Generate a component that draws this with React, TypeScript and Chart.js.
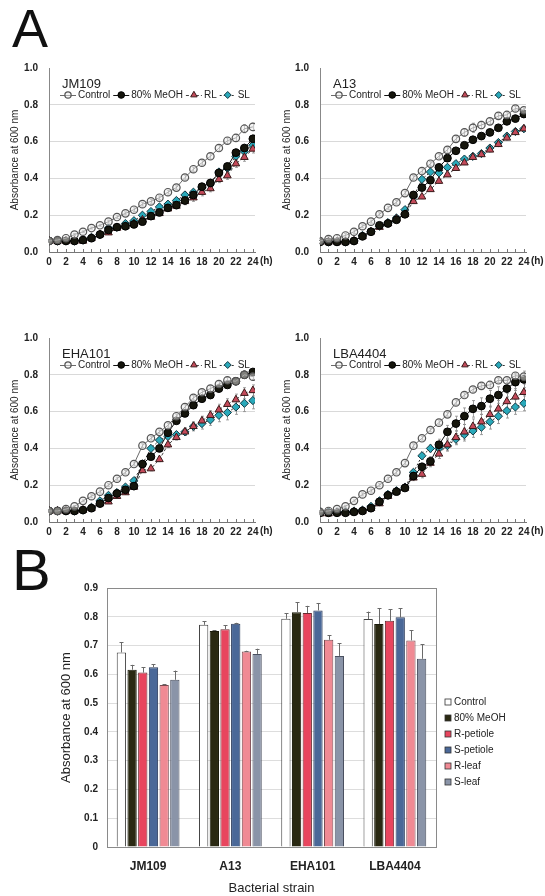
import React, { useEffect, useRef } from 'react';
import { Chart, registerables } from 'chart.js';

Chart.register(...registerables);

const FONT = '"Liberation Sans", Arial, Helvetica, sans-serif';

// ---------- Panel A data (absorbance at 600 nm vs hours) ----------
const hours = [0, 1, 2, 3, 4, 5, 6, 7, 8, 9, 10, 11, 12, 13, 14, 15, 16, 17, 18, 19, 20, 21, 22, 23, 24];
const hourTickLabels = ['0', '', '2', '', '4', '', '6', '', '8', '', '10', '', '12', '', '14', '', '16', '', '18', '', '20', '', '22', '', '24'];
const lineSeriesNames = ['Control', '80% MeOH', 'RL', 'SL'];

const jm109Control = [0.06, 0.065, 0.075, 0.095, 0.11, 0.13, 0.145, 0.165, 0.19, 0.21, 0.23, 0.26, 0.275, 0.295, 0.325, 0.35, 0.405, 0.45, 0.485, 0.52, 0.565, 0.605, 0.62, 0.67, 0.68];
const jm109Methanol = [0.06, 0.06, 0.06, 0.06, 0.065, 0.075, 0.095, 0.12, 0.135, 0.14, 0.15, 0.165, 0.195, 0.215, 0.24, 0.255, 0.28, 0.31, 0.355, 0.375, 0.43, 0.465, 0.54, 0.565, 0.615];
const jm109RL = [0.06, 0.06, 0.06, 0.06, 0.06, 0.075, 0.095, 0.105, 0.13, 0.14, 0.155, 0.175, 0.19, 0.21, 0.235, 0.25, 0.275, 0.295, 0.325, 0.345, 0.395, 0.415, 0.48, 0.515, 0.56];
const jm109SL = [0.06, 0.06, 0.06, 0.06, 0.065, 0.08, 0.095, 0.13, 0.135, 0.155, 0.17, 0.2, 0.22, 0.245, 0.26, 0.28, 0.31, 0.325, 0.35, 0.375, 0.435, 0.455, 0.52, 0.545, 0.58];
const jm109ControlErr = [0.005, 0.005, 0.005, 0.005, 0.005, 0.005, 0.005, 0.008, 0.008, 0.008, 0.01, 0.01, 0.01, 0.01, 0.01, 0.01, 0.012, 0.012, 0.012, 0.015, 0.015, 0.015, 0.018, 0.022, 0.02];
const jm109MethanolErr = [0.005, 0.005, 0.005, 0.005, 0.005, 0.005, 0.005, 0.008, 0.008, 0.008, 0.008, 0.01, 0.01, 0.01, 0.01, 0.012, 0.012, 0.015, 0.015, 0.015, 0.018, 0.018, 0.02, 0.02, 0.022];
const jm109RLErr = [0.005, 0.005, 0.005, 0.005, 0.005, 0.005, 0.005, 0.008, 0.008, 0.008, 0.008, 0.01, 0.01, 0.01, 0.012, 0.015, 0.018, 0.02, 0.02, 0.018, 0.018, 0.02, 0.02, 0.022, 0.022];
const jm109SLErr = [0.005, 0.005, 0.005, 0.005, 0.005, 0.005, 0.005, 0.008, 0.008, 0.008, 0.008, 0.01, 0.01, 0.01, 0.01, 0.012, 0.015, 0.015, 0.015, 0.015, 0.015, 0.018, 0.018, 0.02, 0.02];

const a13Control = [0.06, 0.07, 0.075, 0.09, 0.11, 0.14, 0.165, 0.205, 0.24, 0.27, 0.32, 0.405, 0.44, 0.48, 0.52, 0.555, 0.615, 0.65, 0.675, 0.69, 0.71, 0.74, 0.745, 0.78, 0.77];
const a13Methanol = [0.055, 0.055, 0.055, 0.055, 0.06, 0.085, 0.11, 0.145, 0.155, 0.175, 0.205, 0.31, 0.35, 0.39, 0.46, 0.51, 0.55, 0.58, 0.61, 0.63, 0.65, 0.675, 0.71, 0.725, 0.75];
const a13RL = [0.055, 0.055, 0.055, 0.055, 0.06, 0.085, 0.11, 0.135, 0.155, 0.18, 0.205, 0.275, 0.3, 0.34, 0.385, 0.42, 0.455, 0.485, 0.515, 0.53, 0.555, 0.585, 0.62, 0.65, 0.67];
const a13SL = [0.055, 0.055, 0.055, 0.055, 0.06, 0.09, 0.11, 0.14, 0.16, 0.185, 0.23, 0.3, 0.395, 0.435, 0.43, 0.46, 0.48, 0.505, 0.52, 0.535, 0.565, 0.595, 0.63, 0.655, 0.67];
const a13ControlErr = [0.015, 0.015, 0.015, 0.01, 0.01, 0.008, 0.008, 0.008, 0.008, 0.01, 0.01, 0.01, 0.012, 0.012, 0.012, 0.015, 0.015, 0.02, 0.025, 0.02, 0.015, 0.015, 0.012, 0.012, 0.01];
const a13MethanolErr = [0.008, 0.008, 0.008, 0.008, 0.008, 0.008, 0.008, 0.008, 0.008, 0.008, 0.01, 0.01, 0.01, 0.01, 0.01, 0.01, 0.01, 0.01, 0.01, 0.01, 0.01, 0.01, 0.01, 0.01, 0.01];
const a13RLErr = [0.008, 0.008, 0.008, 0.008, 0.008, 0.008, 0.008, 0.008, 0.008, 0.008, 0.01, 0.01, 0.01, 0.01, 0.01, 0.01, 0.01, 0.01, 0.01, 0.01, 0.01, 0.01, 0.01, 0.01, 0.01];
const a13SLErr = [0.008, 0.008, 0.008, 0.008, 0.008, 0.008, 0.008, 0.008, 0.008, 0.008, 0.01, 0.01, 0.01, 0.01, 0.01, 0.01, 0.01, 0.01, 0.01, 0.01, 0.01, 0.01, 0.012, 0.012, 0.012];

const eha101Control = [0.06, 0.06, 0.07, 0.085, 0.115, 0.14, 0.165, 0.2, 0.235, 0.27, 0.315, 0.415, 0.455, 0.49, 0.525, 0.575, 0.625, 0.675, 0.705, 0.725, 0.75, 0.77, 0.765, 0.8, 0.79];
const eha101Methanol = [0.06, 0.06, 0.06, 0.06, 0.065, 0.075, 0.1, 0.13, 0.155, 0.175, 0.195, 0.315, 0.355, 0.4, 0.485, 0.55, 0.59, 0.635, 0.67, 0.69, 0.725, 0.745, 0.765, 0.8, 0.815];
const eha101RL = [0.06, 0.06, 0.06, 0.06, 0.065, 0.075, 0.1, 0.11, 0.14, 0.16, 0.19, 0.28, 0.29, 0.34, 0.42, 0.46, 0.49, 0.52, 0.55, 0.58, 0.61, 0.64, 0.665, 0.7, 0.715];
const eha101SL = [0.06, 0.06, 0.06, 0.06, 0.065, 0.08, 0.115, 0.145, 0.16, 0.19, 0.225, 0.315, 0.4, 0.445, 0.465, 0.475, 0.49, 0.52, 0.535, 0.555, 0.58, 0.595, 0.625, 0.645, 0.66];
const eha101ControlErr = [0.005, 0.005, 0.005, 0.005, 0.005, 0.008, 0.008, 0.008, 0.008, 0.01, 0.01, 0.01, 0.01, 0.01, 0.01, 0.012, 0.012, 0.012, 0.012, 0.015, 0.015, 0.015, 0.015, 0.015, 0.015];
const eha101MethanolErr = [0.005, 0.005, 0.005, 0.005, 0.005, 0.008, 0.008, 0.008, 0.008, 0.01, 0.01, 0.01, 0.012, 0.012, 0.015, 0.015, 0.015, 0.015, 0.015, 0.015, 0.015, 0.015, 0.018, 0.02, 0.02];
const eha101RLErr = [0.005, 0.005, 0.005, 0.005, 0.005, 0.008, 0.008, 0.008, 0.008, 0.01, 0.01, 0.01, 0.012, 0.012, 0.015, 0.015, 0.02, 0.02, 0.025, 0.025, 0.03, 0.03, 0.03, 0.03, 0.03];
const eha101SLErr = [0.005, 0.005, 0.005, 0.005, 0.005, 0.008, 0.008, 0.008, 0.008, 0.01, 0.01, 0.01, 0.012, 0.012, 0.015, 0.015, 0.02, 0.025, 0.03, 0.03, 0.035, 0.04, 0.04, 0.045, 0.045];

const lba4404Control = [0.055, 0.06, 0.07, 0.085, 0.115, 0.15, 0.17, 0.2, 0.235, 0.27, 0.32, 0.415, 0.455, 0.5, 0.54, 0.585, 0.65, 0.69, 0.72, 0.74, 0.745, 0.77, 0.77, 0.795, 0.79];
const lba4404Methanol = [0.05, 0.05, 0.05, 0.05, 0.055, 0.06, 0.075, 0.11, 0.145, 0.165, 0.185, 0.25, 0.3, 0.33, 0.42, 0.49, 0.535, 0.575, 0.615, 0.63, 0.67, 0.69, 0.725, 0.76, 0.775];
const lba4404RL = [0.045, 0.045, 0.05, 0.05, 0.055, 0.06, 0.075, 0.1, 0.14, 0.165, 0.185, 0.24, 0.26, 0.32, 0.37, 0.42, 0.46, 0.49, 0.52, 0.545, 0.585, 0.615, 0.655, 0.68, 0.705];
const lba4404SL = [0.055, 0.055, 0.055, 0.055, 0.06, 0.065, 0.085, 0.115, 0.15, 0.17, 0.19, 0.27, 0.36, 0.4, 0.4, 0.415, 0.45, 0.475, 0.495, 0.515, 0.545, 0.575, 0.605, 0.625, 0.645];
const lba4404ControlErr = [0.005, 0.005, 0.005, 0.005, 0.005, 0.008, 0.008, 0.008, 0.008, 0.01, 0.01, 0.01, 0.01, 0.01, 0.01, 0.01, 0.012, 0.012, 0.012, 0.012, 0.012, 0.012, 0.012, 0.015, 0.015];
const lba4404MethanolErr = [0.005, 0.005, 0.005, 0.005, 0.005, 0.008, 0.008, 0.008, 0.008, 0.01, 0.01, 0.015, 0.02, 0.025, 0.03, 0.035, 0.04, 0.045, 0.045, 0.045, 0.045, 0.045, 0.045, 0.045, 0.045];
const lba4404RLErr = [0.005, 0.005, 0.005, 0.005, 0.005, 0.008, 0.008, 0.008, 0.008, 0.01, 0.01, 0.015, 0.02, 0.02, 0.025, 0.03, 0.035, 0.04, 0.04, 0.04, 0.045, 0.045, 0.045, 0.045, 0.045];
const lba4404SLErr = [0.005, 0.005, 0.005, 0.005, 0.005, 0.008, 0.008, 0.008, 0.008, 0.01, 0.01, 0.015, 0.02, 0.02, 0.025, 0.03, 0.03, 0.035, 0.035, 0.04, 0.04, 0.04, 0.04, 0.04, 0.04];

const lineYTicks = [0, 0.2, 0.4, 0.6, 0.8, 1.0];

// ---------- Panel B data ----------
const strains = ['JM109', 'A13', 'EHA101', 'LBA4404'];
const barSeriesNames = ['Control', '80% MeOH', 'R-petiole', 'S-petiole', 'R-leaf', 'S-leaf'];
const barControl = [0.676, 0.772, 0.793, 0.792];
const barMethanol = [0.616, 0.751, 0.816, 0.775];
const barRPetiole = [0.606, 0.757, 0.813, 0.786];
const barSPetiole = [0.625, 0.776, 0.822, 0.798];
const barRLeaf = [0.563, 0.679, 0.72, 0.718];
const barSLeaf = [0.581, 0.671, 0.664, 0.654];
const errControl = [0.036, 0.012, 0.02, 0.026];
const errMethanol = [0.017, 0.003, 0.034, 0.055];
const errRPetiole = [0.019, 0.014, 0.025, 0.041];
const errSPetiole = [0.01, 0.003, 0.026, 0.032];
const errRLeaf = [0.003, 0.003, 0.016, 0.035];
const errSLeaf = [0.032, 0.018, 0.044, 0.051];

// ---------- styles ----------
const lineStyles = [
  { borderColor: '#6a6a6a', borderDash: [], pointStyle: 'circle', pointRadius: 3.7, pointBackgroundColor: 'rgba(235,235,235,0.5)', pointBorderColor: '#555555', pointBorderWidth: 1.2 },
  { borderColor: '#111111', borderDash: [], pointStyle: 'circle', pointRadius: 3.9, pointBackgroundColor: '#15150c', pointBorderColor: '#000000', pointBorderWidth: 1 },
  { borderColor: '#444444', borderDash: [3, 2], pointStyle: 'triangle', pointRadius: 4.4, pointBackgroundColor: '#c44a5a', pointBorderColor: '#3a1a1a', pointBorderWidth: 1 },
  { borderColor: '#333333', borderDash: [2, 2], pointStyle: 'rectRot', pointRadius: 4.1, pointBackgroundColor: '#2aa9ba', pointBorderColor: '#153a44', pointBorderWidth: 1 },
];

const barFill = ['#ffffff', '#2a2912', '#e8455e', '#4a6898', '#f08a94', '#8a94a8'];
const barBorder = ['#444444', '#1a1a0a', '#6a2a30', '#2a3a5a', '#7a4a50', '#4a5060'];

function drawMarker(ctx: CanvasRenderingContext2D, style: string, x: number, y: number, r: number, fill: string, stroke: string, lw: number) {
  ctx.save();
  ctx.beginPath();
  if (style === 'triangle') {
    let rad = 0;
    ctx.moveTo(x + Math.sin(rad) * r, y - Math.cos(rad) * r);
    rad += (2 * Math.PI) / 3;
    ctx.lineTo(x + Math.sin(rad) * r, y - Math.cos(rad) * r);
    rad += (2 * Math.PI) / 3;
    ctx.lineTo(x + Math.sin(rad) * r, y - Math.cos(rad) * r);
    ctx.closePath();
  } else if (style === 'rectRot') {
    ctx.moveTo(x, y - r);
    ctx.lineTo(x + r, y);
    ctx.lineTo(x, y + r);
    ctx.lineTo(x - r, y);
    ctx.closePath();
  } else {
    ctx.arc(x, y, r, 0, Math.PI * 2);
  }
  ctx.fillStyle = fill;
  ctx.fill();
  ctx.lineWidth = lw;
  ctx.strokeStyle = stroke;
  ctx.stroke();
  ctx.restore();
}

type PanelCfg = { strain: string; left: number; top: number; width: number; height: number; yw: number; padR: number; series: number[][]; errors: number[][] };

const panels: PanelCfg[] = [
  { strain: 'JM109', left: 0, top: 51, width: 276, height: 229, yw: 49, padR: 21, series: [jm109Control, jm109Methanol, jm109RL, jm109SL], errors: [jm109ControlErr, jm109MethanolErr, jm109RLErr, jm109SLErr] },
  { strain: 'A13', left: 272, top: 51, width: 273, height: 229, yw: 48, padR: 19, series: [a13Control, a13Methanol, a13RL, a13SL], errors: [a13ControlErr, a13MethanolErr, a13RLErr, a13SLErr] },
  { strain: 'EHA101', left: 0, top: 321, width: 276, height: 229, yw: 49, padR: 21, series: [eha101Control, eha101Methanol, eha101RL, eha101SL], errors: [eha101ControlErr, eha101MethanolErr, eha101RLErr, eha101SLErr] },
  { strain: 'LBA4404', left: 272, top: 321, width: 273, height: 229, yw: 48, padR: 19, series: [lba4404Control, lba4404Methanol, lba4404RL, lba4404SL], errors: [lba4404ControlErr, lba4404MethanolErr, lba4404RLErr, lba4404SLErr] },
];

function LinePanel({ cfg }: { cfg: PanelCfg }) {
  const ref = useRef<HTMLCanvasElement>(null);
  useEffect(() => {
    if (!ref.current) return;
    const decor = {
      id: 'lineDecor',
      beforeDatasetsDraw(chart: any) {
        const { ctx, scales } = chart;
        const y = scales.y;
        ctx.save();
        ctx.strokeStyle = '#8a8a8a';
        ctx.lineWidth = 0.8;
        chart.data.datasets.forEach((ds: any, di: number) => {
          const meta = chart.getDatasetMeta(di);
          meta.data.forEach((pt: any, i: number) => {
            const e = cfg.errors[di][i];
            const v = cfg.series[di][i];
            const y1 = y.getPixelForValue(v + e);
            const y2 = y.getPixelForValue(v - e);
            const px = Math.round(pt.x) + 0.5;
            ctx.beginPath();
            ctx.moveTo(px, y1);
            ctx.lineTo(px, y2);
            ctx.moveTo(px - 1.5, y1);
            ctx.lineTo(px + 1.5, y1);
            ctx.moveTo(px - 1.5, y2);
            ctx.lineTo(px + 1.5, y2);
            ctx.stroke();
          });
        });
        ctx.restore();
      },
      afterDraw(chart: any) {
        const { ctx, chartArea, scales } = chart;
        const x = scales.x;
        ctx.save();
        ctx.strokeStyle = '#777777';
        ctx.lineWidth = 1;
        for (const h of hours) {
          const px = Math.round(x.getPixelForValue(h)) + 0.5;
          ctx.beginPath();
          ctx.moveTo(px, chartArea.bottom);
          ctx.lineTo(px, chartArea.bottom - 3);
          ctx.stroke();
        }
        ctx.fillStyle = '#222222';
        ctx.textBaseline = 'middle';
        ctx.textAlign = 'left';
        ctx.font = `bold 10px ${FONT}`;
        ctx.fillText('(h)', x.getPixelForValue(24) + 7, chartArea.bottom + 9);
        ctx.font = `13px ${FONT}`;
        ctx.fillText(cfg.strain, chartArea.left + 13, chartArea.top + 16);
        ctx.font = `10px ${FONT}`;
        let lx = chartArea.left + 11;
        const ly = chartArea.top + 27;
        chart.data.datasets.forEach((ds: any) => {
          ctx.strokeStyle = ds.borderColor;
          ctx.lineWidth = 1;
          ctx.setLineDash(ds.borderDash || []);
          ctx.beginPath();
          ctx.moveTo(lx, ly + 0.5);
          ctx.lineTo(lx + 16, ly + 0.5);
          ctx.stroke();
          ctx.setLineDash([]);
          drawMarker(ctx, ds.pointStyle, lx + 8, ly, ds.pointRadius * 0.85, ds.pointBackgroundColor, ds.pointBorderColor, ds.pointBorderWidth);
          lx += 18;
          ctx.fillStyle = '#222222';
          ctx.fillText(ds.label, lx, ly);
          lx += ctx.measureText(ds.label).width + 3;
        });
        ctx.restore();
      },
    };
    const chart = new Chart(ref.current, {
      type: 'line',
      data: {
        datasets: lineSeriesNames.map((name, si) => ({
          label: name,
          data: cfg.series[si].map((v, i) => ({ x: hours[i], y: v })),
          borderWidth: 1,
          tension: 0,
          fill: false,
          ...lineStyles[si],
        })) as any,
      },
      options: {
        responsive: false,
        animation: false,
        events: [],
        layout: { padding: { left: 0, top: 8, right: cfg.padR, bottom: 0 } },
        plugins: { legend: { display: false }, tooltip: { enabled: false } },
        scales: {
          x: {
            type: 'linear',
            min: 0,
            max: 24.25,
            afterBuildTicks: (s: any) => {
              s.ticks = hours.map((h) => ({ value: h }));
            },
            afterFit: (s: any) => {
              s.height = 28;
            },
            grid: { display: false, drawTicks: false },
            border: { display: true, color: '#777777', width: 1 },
            ticks: {
              autoSkip: false,
              maxRotation: 0,
              minRotation: 0,
              padding: 4,
              color: '#222222',
              font: { family: FONT, size: 10, weight: 'bold' },
              callback: (v: any) => hourTickLabels[hours.indexOf(Number(v))] ?? '',
            },
          },
          y: {
            min: 0,
            max: 1,
            afterBuildTicks: (s: any) => {
              s.ticks = lineYTicks.map((t) => ({ value: t }));
            },
            afterFit: (s: any) => {
              s.width = cfg.yw;
            },
            grid: {
              drawTicks: false,
              color: (c: any) => (c.tick && c.tick.value > 0.01 && c.tick.value < 0.99 ? '#d9d9d9' : 'rgba(0,0,0,0)'),
            },
            border: { display: true, color: '#888888' },
            ticks: {
              padding: 11,
              color: '#222222',
              font: { family: FONT, size: 10, weight: 'bold' },
              callback: (v: any) => Number(v).toFixed(1),
            },
            title: {
              display: true,
              text: 'Absorbance at 600 nm',
              color: '#222222',
              font: { family: FONT, size: 10 },
              padding: { top: 9, bottom: 0 },
            },
          },
        },
      } as any,
      plugins: [decor],
    });
    return () => chart.destroy();
  }, [cfg]);
  return (
    <canvas
      ref={ref}
      width={cfg.width}
      height={cfg.height}
      style={{ position: 'absolute', left: cfg.left, top: cfg.top, width: cfg.width, height: cfg.height }}
    />
  );
}

function BarPanel() {
  const ref = useRef<HTMLCanvasElement>(null);
  useEffect(() => {
    if (!ref.current) return;
    const errs = [errControl, errMethanol, errRPetiole, errSPetiole, errRLeaf, errSLeaf];
    const decor = {
      id: 'barDecor',
      afterDatasetsDraw(chart: any) {
        const { ctx, scales } = chart;
        const y = scales.y;
        ctx.save();
        ctx.strokeStyle = '#6a6a6a';
        ctx.lineWidth = 1;
        chart.data.datasets.forEach((ds: any, di: number) => {
          const meta = chart.getDatasetMeta(di);
          meta.data.forEach((bar: any, i: number) => {
            const v = ds.data[i];
            const top = y.getPixelForValue(v + errs[di][i]);
            const bx = Math.round(bar.x) + 0.5;
            ctx.beginPath();
            ctx.moveTo(bx, bar.y);
            ctx.lineTo(bx, top);
            ctx.moveTo(bx - 2, Math.round(top) + 0.5);
            ctx.lineTo(bx + 2, Math.round(top) + 0.5);
            ctx.stroke();
          });
        });
        ctx.restore();
      },
      afterDraw(chart: any) {
        const { ctx, chartArea } = chart;
        ctx.save();
        ctx.strokeStyle = '#8a8a8a';
        ctx.lineWidth = 1;
        ctx.strokeRect(Math.round(chartArea.left) + 0.5, Math.round(chartArea.top) + 0.5, Math.round(chartArea.right - chartArea.left), Math.round(chartArea.bottom - chartArea.top));
        ctx.font = `10px ${FONT}`;
        ctx.textBaseline = 'middle';
        ctx.textAlign = 'left';
        chart.data.datasets.forEach((ds: any, i: number) => {
          const cy = chartArea.top + 114 + 16 * i;
          const sx = chartArea.right + 9;
          ctx.fillStyle = ds.backgroundColor;
          ctx.fillRect(sx, cy - 3, 6, 6);
          ctx.strokeStyle = '#333333';
          ctx.lineWidth = 0.8;
          ctx.strokeRect(sx, cy - 3, 6, 6);
          ctx.fillStyle = '#222222';
          ctx.fillText(ds.label, chartArea.right + 18, cy);
        });
        ctx.restore();
      },
    };
    const values = [barControl, barMethanol, barRPetiole, barSPetiole, barRLeaf, barSLeaf];
    const chart = new Chart(ref.current, {
      type: 'bar',
      data: {
        labels: strains,
        datasets: barSeriesNames.map((name, i) => ({
          label: name,
          data: values[i],
          backgroundColor: barFill[i],
          borderColor: barBorder[i],
          borderWidth: 1,
          categoryPercentage: 0.78,
          barPercentage: 0.87,
        })),
      },
      options: {
        responsive: false,
        animation: false,
        events: [],
        layout: { padding: { left: 0, top: 18, right: 109, bottom: 0 } },
        plugins: { legend: { display: false }, tooltip: { enabled: false } },
        scales: {
          x: {
            type: 'category',
            grid: { display: false, drawTicks: false },
            border: { display: false },
            afterFit: (s: any) => {
              s.height = 49;
            },
            ticks: { padding: 12, color: '#222222', font: { family: FONT, size: 12, weight: 'bold' } },
            title: {
              display: true,
              text: 'Bacterial strain',
              color: '#222222',
              font: { family: FONT, size: 13 },
              padding: { top: 0, bottom: 0 },
            },
          },
          y: {
            min: 0,
            max: 0.9,
            afterFit: (s: any) => {
              s.width = 107;
            },
            grid: { drawTicks: false, color: '#dddddd' },
            border: { display: false },
            ticks: {
              stepSize: 0.1,
              padding: 9,
              color: '#222222',
              font: { family: FONT, size: 10, weight: 'bold' },
              callback: (v: any) => (Math.abs(Number(v)) < 1e-9 ? '0' : Number(v).toFixed(1)),
            },
            title: {
              display: true,
              text: 'Absorbance at 600 nm',
              color: '#222222',
              font: { family: FONT, size: 13 },
              padding: { top: 59, bottom: 0 },
            },
          },
        },
      } as any,
      plugins: [decor],
    });
    return () => chart.destroy();
  }, []);
  return <canvas ref={ref} width={545} height={326} style={{ position: 'absolute', left: 0, top: 570, width: 545, height: 326 }} />;
}

export default function App() {
  return (
    <div style={{ position: 'absolute', left: 0, top: 0, width: 545, height: 896, overflow: 'hidden', background: '#ffffff', fontFamily: FONT }}>
      <div style={{ position: 'absolute', left: 12, top: 1, fontSize: 54, lineHeight: '54px', color: '#111111' }}>A</div>
      <div style={{ position: 'absolute', left: 12, top: 541, fontSize: 58, lineHeight: '58px', color: '#111111' }}>B</div>
      {panels.map((p) => (
        <LinePanel key={p.strain} cfg={p} />
      ))}
      <BarPanel />
    </div>
  );
}
